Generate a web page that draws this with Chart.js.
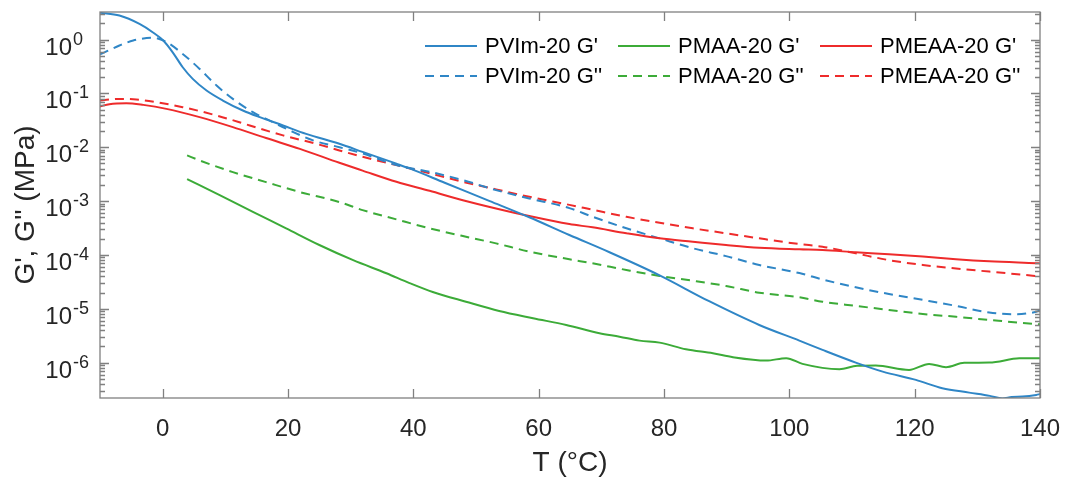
<!DOCTYPE html>
<html><head><meta charset="utf-8">
<script src="https://cdn.jsdelivr.net/npm/chart.js@4.4.1/dist/chart.umd.min.js"></script>
<style>html,body{margin:0;padding:0;background:#fff;}canvas{display:block}</style>
</head><body>
<canvas id="c" width="1065" height="477"></canvas>
<script>
// ---- data (T in °C, modulus in MPa) ----
const xTicks = [0, 20, 40, 60, 80, 100, 120, 140];
const yTickExps = [0, -1, -2, -3, -4, -5, -6];
const seriesNames = ["PVIm-20 G'", "PMAA-20 G'", "PMEAA-20 G'", "PVIm-20 G''", "PMAA-20 G''", "PMEAA-20 G''"];

const pvimGpT = [-10, -6.9, -3.7, -1.6, 0.1, 1.6, 3.2, 4.8, 7.0, 9.6, 12.8, 15.5, 19.2, 22.9, 28.2, 31.9, 37.3, 39.4, 45.0, 52.2, 58.5, 64.9, 71.3, 79.3, 87.2, 95.2, 101.6, 105.3, 110.6, 114.9, 120.2, 124.4, 128.7, 132.0, 134.0, 135.5, 137.2, 139.4, 140];
const pvimGpV = [3.14, 2.79, 1.95, 1.37, 0.96, 0.58, 0.306, 0.186, 0.113, 0.0738, 0.0482, 0.0362, 0.0254, 0.0177, 0.0116, 0.0082, 0.00495, 0.00404, 0.00219, 0.00100, 5.0e-4, 2.34e-4, 1.12e-4, 4.17e-5, 1.38e-5, 5.0e-6, 2.56e-6, 1.72e-6, 1.0e-6, 6.8e-7, 4.77e-7, 3.35e-7, 2.77e-7, 2.41e-7, 2.15e-7, 2.3e-7, 2.34e-7, 2.51e-7, 2.6e-7];

const pvimGppT = [-10, -6.9, -4.7, -1.6, 0.6, 3.2, 5.9, 8.6, 11.2, 14.4, 17.6, 20.3, 24.0, 28.2, 31.9, 37.3, 42.6, 47.9, 53.2, 58.5, 64.9, 68.6, 74.0, 79.3, 84.6, 89.9, 95.2, 101.6, 105.3, 110.6, 115.9, 121.3, 126.6, 131.9, 136.2, 139.4, 140];
const pvimGppV = [0.53, 0.774, 0.96, 1.08, 0.90, 0.54, 0.285, 0.140, 0.079, 0.0448, 0.0292, 0.0205, 0.0134, 0.0100, 0.00767, 0.00466, 0.0035, 0.00245, 0.0016, 0.00112, 7.41e-4, 5.12e-4, 3.12e-4, 2.03e-4, 1.33e-4, 9.5e-5, 6.5e-5, 4.6e-5, 3.5e-5, 2.5e-5, 1.88e-5, 1.46e-5, 1.13e-5, 8.5e-6, 7.9e-6, 8.8e-6, 9.3e-6];

const pmaaGpT = [3.9, 9.1, 14.4, 19.7, 25.0, 30.4, 35.7, 39.4, 43.1, 48.4, 53.7, 59.1, 64.4, 69.7, 72.9, 76.1, 79.3, 83.5, 87.8, 91.0, 96.3, 99.5, 102.1, 108.0, 110.8, 113.8, 119.1, 122.3, 125.0, 127.9, 131.9, 136.7, 140];
const pmaaGpV = [2.56e-3, 1.29e-3, 6.33e-4, 3.12e-4, 1.53e-4, 8.0e-5, 4.56e-5, 3.0e-5, 2.05e-5, 1.35e-5, 9.1e-6, 6.67e-6, 5.0e-6, 3.51e-6, 3.03e-6, 2.56e-6, 2.35e-6, 1.77e-6, 1.49e-6, 1.26e-6, 1.09e-6, 1.21e-6, 9.46e-7, 7.55e-7, 8.7e-7, 8.8e-7, 7.3e-7, 9.46e-7, 8.2e-7, 9.9e-7, 1.0e-6, 1.2e-6, 1.21e-6];

const pmaaGppT = [3.9, 5.9, 11.2, 16.5, 21.9, 28.2, 31.9, 37.3, 42.6, 47.9, 53.2, 58.5, 64.9, 68.6, 74.0, 79.3, 84.6, 89.9, 95.2, 101.6, 105.3, 110.6, 115.9, 121.3, 126.6, 131.9, 139.4, 140];
const pmaaGppV = [7.05e-3, 5.69e-3, 3.45e-3, 2.25e-3, 1.47e-3, 9.6e-4, 6.8e-4, 4.57e-4, 3.12e-4, 2.24e-4, 1.64e-4, 1.15e-4, 8.3e-5, 6.98e-5, 5.25e-5, 4.06e-5, 3.32e-5, 2.65e-5, 1.99e-5, 1.63e-5, 1.35e-5, 1.13e-5, 9.5e-6, 8.0e-6, 7.1e-6, 6.2e-6, 5.2e-6, 5.15e-6];

const pmeaaGpT = [-10, -8.5, -5.8, -3.1, 0.6, 5.9, 11.2, 16.5, 21.9, 28.2, 31.9, 37.3, 42.6, 47.9, 53.2, 58.5, 64.9, 68.6, 74.0, 79.3, 84.6, 89.9, 95.2, 101.6, 105.3, 110.6, 115.9, 121.3, 126.6, 131.9, 139.4, 140];
const pmeaaGpV = [0.0571, 0.0631, 0.0658, 0.0612, 0.0516, 0.0362, 0.0236, 0.0148, 0.00934, 0.00514, 0.00368, 0.00228, 0.00155, 0.00104, 7.3e-4, 5.27e-4, 3.74e-4, 3.25e-4, 2.52e-4, 2.03e-4, 1.76e-4, 1.53e-4, 1.36e-4, 1.27e-4, 1.23e-4, 1.12e-4, 1.03e-4, 9.3e-5, 8.3e-5, 7.6e-5, 7.0e-5, 6.95e-5];

const pmeaaGppT = [-10, -6.9, -4.2, -1.0, 3.2, 8.6, 13.9, 19.2, 24.5, 28.2, 31.9, 37.3, 42.6, 47.9, 53.2, 58.5, 64.9, 68.6, 74.0, 79.3, 84.6, 89.9, 95.2, 101.6, 105.3, 110.6, 115.9, 121.3, 126.6, 131.9, 139.4, 140];
const pmeaaGppV = [0.0738, 0.079, 0.0771, 0.0687, 0.0555, 0.0389, 0.0254, 0.0166, 0.0116, 0.00873, 0.00664, 0.00466, 0.00327, 0.00228, 0.00165, 0.0012, 8.5e-4, 6.9e-4, 5.1e-4, 3.96e-4, 3.12e-4, 2.52e-4, 2.03e-4, 1.59e-4, 1.42e-4, 1.07e-4, 8.0e-5, 6.5e-5, 5.6e-5, 4.9e-5, 4.06e-5, 4.0e-5];

// ---- styling ----
const BLUE = '#2f86c6', GREEN = '#3cab38', RED = '#ee2b2b';
const FONT = '"Liberation Sans", Arial, Helvetica, sans-serif';
const DASH = [9, 6];

function zip(t, v) { return t.map((x, i) => ({ x: x, y: v[i] })); }
function ds(label, t, v, color, dashed) {
  return { label, data: zip(t, v), borderColor: color, backgroundColor: color,
    borderWidth: 2, borderDash: dashed ? DASH : [], pointRadius: 0, fill: false,
    cubicInterpolationMode: 'monotone', clip: 0 };
}

const datasets = [
  ds(seriesNames[0], pvimGpT, pvimGpV, BLUE, false),
  ds(seriesNames[1], pmaaGpT, pmaaGpV, GREEN, false),
  ds(seriesNames[2], pmeaaGpT, pmeaaGpV, RED, false),
  ds(seriesNames[3], pvimGppT, pvimGppV, BLUE, true),
  ds(seriesNames[4], pmaaGppT, pmaaGppV, GREEN, true),
  ds(seriesNames[5], pmeaaGppT, pmeaaGppV, RED, true)
];

const legendCols = [425, 618, 820];
const legendRows = [46, 76];

const axesPlugin = {
  id: 'matlabAxes',
  afterDraw(chart) {
    const { ctx, chartArea: a, scales: { x, y } } = chart;
    ctx.save();
    ctx.strokeStyle = '#808080';
    ctx.lineWidth = 1.3;
    ctx.beginPath();
    xTicks.forEach(v => {
      const px = Math.round(x.getPixelForValue(v)) + 0.5;
      ctx.moveTo(px, a.bottom); ctx.lineTo(px, a.bottom - 9);
      ctx.moveTo(px, a.top); ctx.lineTo(px, a.top + 9);
    });
    for (let e = -7; e <= 0; e++) {
      for (let k = 1; k <= 9; k++) {
        const v = k * Math.pow(10, e);
        if (v < y.min || v > y.max) continue;
        const py = Math.round(y.getPixelForValue(v)) + 0.5;
        const len = k === 1 ? 9 : 5;
        ctx.moveTo(a.left, py); ctx.lineTo(a.left + len, py);
        ctx.moveTo(a.right, py); ctx.lineTo(a.right - len, py);
      }
    }
    ctx.stroke();
    ctx.strokeRect(a.left, a.top, a.right - a.left, a.bottom - a.top);

    // tick labels
    ctx.fillStyle = '#262626';
    ctx.font = '24px ' + FONT;
    ctx.textAlign = 'center';
    ctx.textBaseline = 'alphabetic';
    xTicks.forEach(v => ctx.fillText(String(v), x.getPixelForValue(v), a.bottom + 38));
    yTickExps.forEach(e => {
      const py = y.getPixelForValue(Math.pow(10, e));
      ctx.font = '24px ' + FONT;
      ctx.textAlign = 'right';
      ctx.fillText('10', a.left - 28, py + 15);
      ctx.font = '18px ' + FONT;
      ctx.textAlign = 'left';
      ctx.fillText(String(e), a.left - 27, py + 5);
    });

    // axis titles
    ctx.font = '28px ' + FONT;
    ctx.textAlign = 'center';
    ctx.fillText('T (°C)', (a.left + a.right) / 2, 471);
    ctx.save();
    ctx.translate(34, (a.top + a.bottom) / 2);
    ctx.rotate(-Math.PI / 2);
    ctx.fillText("G', G'' (MPa)", 0, 0);
    ctx.restore();

    // legend
    ctx.font = '22px ' + FONT;
    ctx.textAlign = 'left';
    ctx.textBaseline = 'middle';
    chart.data.datasets.forEach((d, i) => {
      const cx = legendCols[i % 3], cy = legendRows[Math.floor(i / 3)];
      ctx.strokeStyle = d.borderColor;
      ctx.lineWidth = 2;
      ctx.setLineDash(d.borderDash);
      ctx.beginPath(); ctx.moveTo(cx, cy); ctx.lineTo(cx + 52, cy); ctx.stroke();
      ctx.setLineDash([]);
      ctx.fillStyle = '#000';
      ctx.fillText(d.label, cx + 60, cy + 1);
    });
    ctx.restore();
  }
};

new Chart(document.getElementById('c'), {
  type: 'line',
  data: { datasets },
  options: {
    responsive: false,
    animation: false,
    devicePixelRatio: 1,
    layout: { padding: { left: 100, right: 25, top: 12, bottom: 79 } },
    plugins: { legend: { display: false }, tooltip: { enabled: false } },
    scales: {
      x: { type: 'linear', min: -10, max: 140,
        ticks: { display: false }, grid: { display: false, drawTicks: false }, border: { display: false },
        afterFit(s) { s.height = 0; } },
      y: { type: 'logarithmic', min: 2.2e-7, max: 3.25,
        ticks: { display: false }, grid: { display: false, drawTicks: false }, border: { display: false },
        afterFit(s) { s.width = 0; } }
    }
  },
  plugins: [axesPlugin]
});
</script>
</body></html>
